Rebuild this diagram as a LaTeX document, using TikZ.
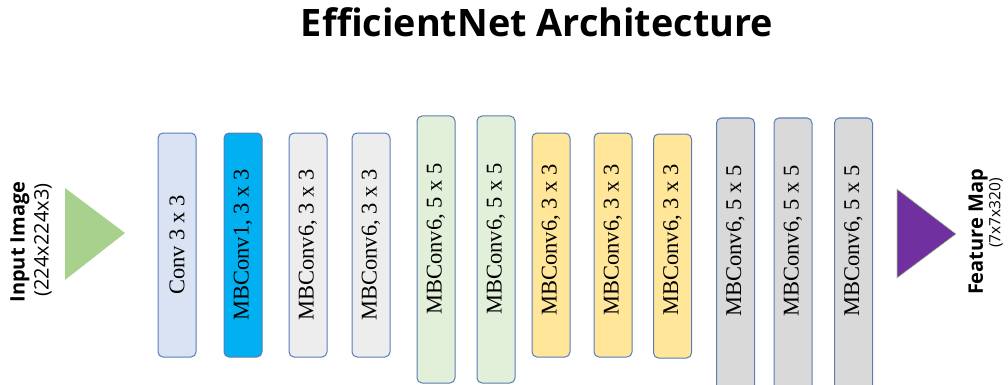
\documentclass[tikz,border=0pt]{standalone}
\usepackage{fontspec}
\setmainfont{Liberation Serif}
\newfontfamily\titlefont{Open Sans}
\newfontfamily\labelfont{Open Sans}
\definecolor{bordercol}{HTML}{5A7CB8}
\definecolor{convblue}{HTML}{DAE3F3}
\definecolor{mbone}{HTML}{00B0F0}
\definecolor{lightgray}{HTML}{EDEDED}
\definecolor{lightgreen}{HTML}{E2F0D9}
\definecolor{lightyellow}{HTML}{FFE699}
\definecolor{midgray}{HTML}{D9D9D9}
\definecolor{trigreen}{HTML}{A9D18E}
\definecolor{tripurple}{HTML}{7030A0}
\tikzset{
  blk/.style={draw=bordercol, line width=1pt, rounded corners=5pt, minimum width=38pt, inner sep=0pt},
  boxtext/.style={rotate=90, font=\fontsize{22.5}{26}\selectfont, inner sep=0pt},
  sidebold/.style={rotate=90, font=\labelfont\bfseries\fontsize{20}{24}\selectfont, inner sep=0pt},
  sidereg/.style={rotate=90, inner sep=0pt}
}
\begin{document}
\begin{tikzpicture}[x=1pt,y=-1pt]
\useasboundingbox (0,0) rectangle (1008,385);
% title
\node[font=\titlefont\bfseries\fontsize{37.8}{44}\selectfont, anchor=base, inner sep=0pt] (title) at (537,37) {EfficientNet Architecture};
% boxes
\node[blk, fill=convblue, minimum height=224pt] (b1) at (177,245) {};
\node[blk, fill=mbone, minimum height=224pt] (b2) at (243,245) {};
\node[blk, fill=lightgray, minimum height=224pt] (b3) at (308,245) {};
\node[blk, fill=lightgray, minimum height=224pt] (b4) at (371,245) {};
\node[blk, fill=lightgreen, minimum height=267pt] (b5) at (436,249.5) {};
\node[blk, fill=lightgreen, minimum height=267pt] (b6) at (496,249.5) {};
\node[blk, fill=lightyellow, minimum height=224pt] (b7) at (551,245) {};
\node[blk, fill=lightyellow, minimum height=224pt] (b8) at (613,245) {};
\node[blk, fill=lightyellow, minimum height=224pt] (b9) at (672.5,246) {};
\node[blk, fill=midgray, minimum height=272pt] (b10) at (735.5,254) {};
\node[blk, fill=midgray, minimum height=272pt] (b11) at (793,254) {};
\node[blk, fill=midgray, minimum height=272pt] (b12) at (853.5,254) {};
% box texts
\node[boxtext] (t1) at (177,245) {Conv 3 x 3};
\node[boxtext] (t2) at (243,245) {MBConv1, 3 x 3};
\node[boxtext] (t3) at (308,245) {MBConv6, 3 x 3};
\node[boxtext] (t4) at (371,245) {MBConv6, 3 x 3};
\node[boxtext] (t5) at (436,239) {MBConv6, 5 x 5};
\node[boxtext] (t6) at (496,239) {MBConv6, 5 x 5};
\node[boxtext] (t7) at (551,240) {MBConv6, 3 x 3};
\node[boxtext] (t8) at (613,240) {MBConv6, 3 x 3};
\node[boxtext] (t9) at (672.5,240) {MBConv6, 3 x 3};
\node[boxtext] (t10) at (735.5,241) {MBConv6, 5 x 5};
\node[boxtext] (t11) at (793,241) {MBConv6, 5 x 5};
\node[boxtext] (t12) at (853.5,241) {MBConv6, 5 x 5};
% input triangle
\coordinate (inA) at (65,188);
\coordinate (inB) at (65,280);
\coordinate (inTip) at (125,233);
\fill[trigreen] (inA) -- (inTip) -- (inB) -- cycle;
\node[sidebold] (inlabel) at (20,242) {Input Image};
\node[sidereg, font=\labelfont\fontsize{20}{24}\selectfont] (insize) at (43,240) {(224x224x3)};
% output triangle
\coordinate (outA) at (897,189);
\coordinate (outB) at (897,278);
\coordinate (outTip) at (956,234);
\filldraw[fill=tripurple, draw=trigreen, line width=0.6pt] (outA) -- (outTip) -- (outB) -- cycle;
\node[sidebold] (outlabel) at (978,232) {Feature Map};
\node[sidereg, font=\labelfont\fontsize{15.5}{18}\selectfont] (outsize) at (996,213) {(7x7x320)};
\end{tikzpicture}
\end{document}
